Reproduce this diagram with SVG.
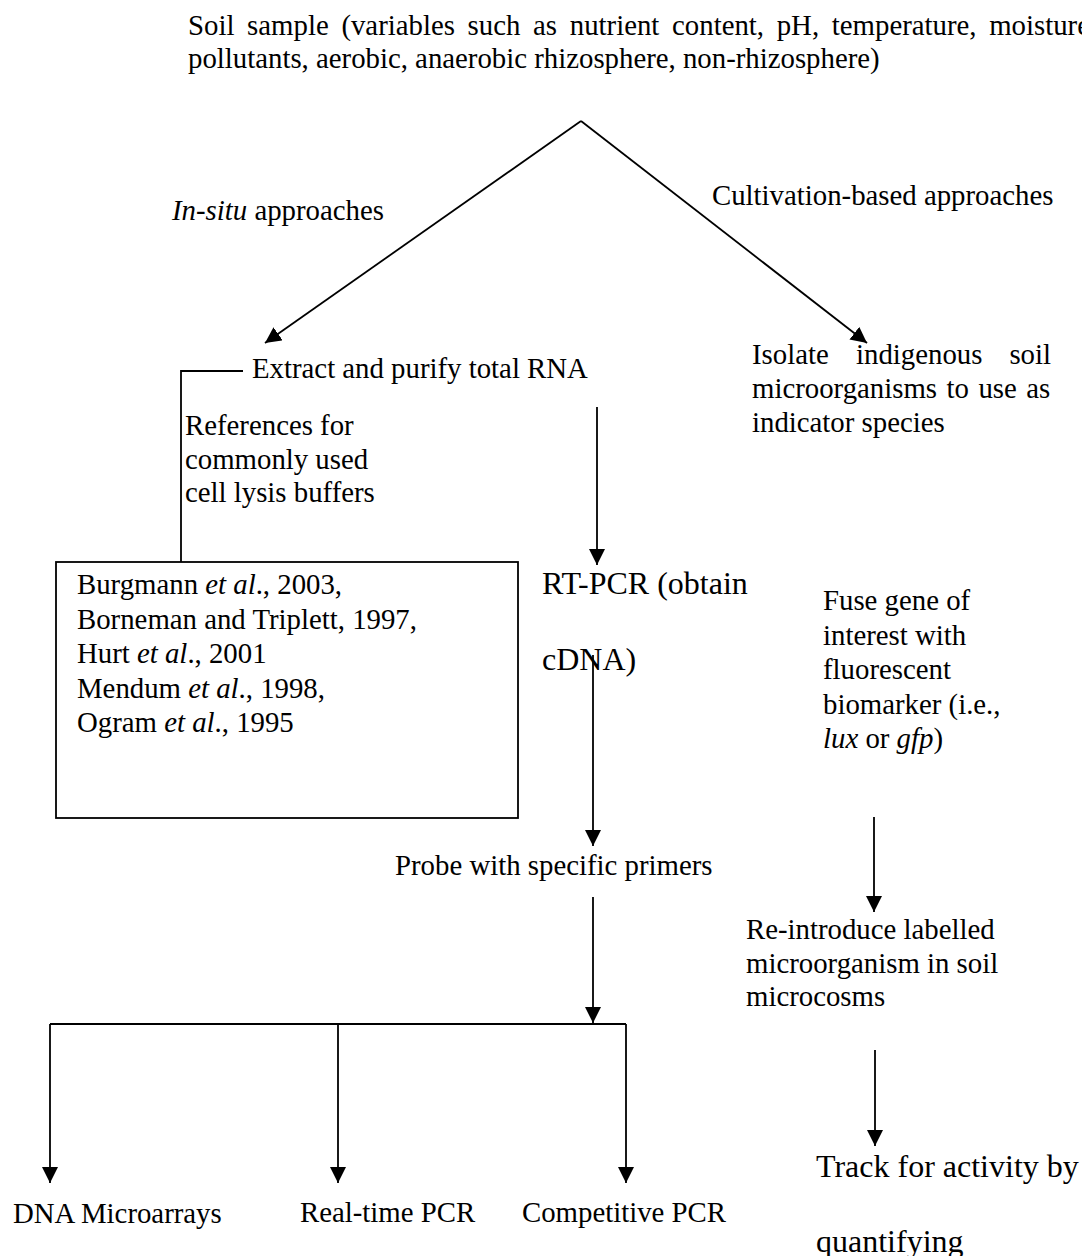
<svg xmlns="http://www.w3.org/2000/svg" width="1082" height="1256" viewBox="0 0 1082 1256">
<style>
  text { font-family: "Liberation Serif", "Times New Roman", serif; font-size: 28.8px; fill: #000; }
  .big { font-size: 32px; }
  .it { font-style: italic; }
  .ln { stroke: #000; stroke-width: 1.8; fill: none; }
  .arr { stroke: #000; stroke-width: 1.8; fill: none; marker-end: url(#ah); }
  .box { stroke: #000; stroke-width: 1.8; fill: none; }
</style>
<defs>
  <marker id="ah" markerUnits="userSpaceOnUse" viewBox="0 0 16 16" markerWidth="16" markerHeight="16" refX="16" refY="8" orient="auto">
    <path d="M0,0 L16,8 L0,16 z" fill="#000"/>
  </marker>
</defs>
<rect width="1082" height="1256" fill="#fff"/>

<g id="connectors">
  <line class="arr" x1="581" y1="121" x2="265" y2="343"/>
  <line class="arr" x1="581" y1="121" x2="867" y2="343"/>
  <polyline class="ln" points="243,371 181,371 181,562"/>
  <line class="arr" x1="597" y1="407" x2="597" y2="565"/>
  <line class="arr" x1="593" y1="655" x2="593" y2="846"/>
  <line class="arr" x1="593" y1="897" x2="593" y2="1023"/>
  <line class="ln" x1="50" y1="1024" x2="626" y2="1024"/>
  <line class="arr" x1="50" y1="1024" x2="50" y2="1183"/>
  <line class="arr" x1="338" y1="1024" x2="338" y2="1183"/>
  <line class="arr" x1="626" y1="1024" x2="626" y2="1183"/>
  <line class="arr" x1="874" y1="817" x2="874" y2="912"/>
  <line class="arr" x1="875" y1="1050" x2="875" y2="1146"/>
</g>

<g id="soil-sample">
  <text x="188" y="35" word-spacing="5.5">Soil sample (variables such as nutrient content, pH, temperature, moisture,</text>
  <text x="188" y="68">pollutants, aerobic, anaerobic rhizosphere, non-rhizosphere)</text>
</g>

<g id="in-situ-label">
  <text x="172" y="220"><tspan class="it">In-situ</tspan> approaches</text>
</g>

<g id="cultivation-label">
  <text x="712" y="205">Cultivation-based approaches</text>
</g>

<g id="extract-rna">
  <text x="252" y="378">Extract and purify total RNA</text>
</g>

<g id="references-label">
  <text x="185" y="435">References for</text>
  <text x="185" y="468.5">commonly used</text>
  <text x="185" y="502">cell lysis buffers</text>
</g>

<g id="references-box">
  <rect class="box" x="56" y="562" width="462" height="256"/>
  <text x="77" y="594">Burgmann <tspan class="it">et al</tspan>., 2003,</text>
  <text x="77" y="628.5">Borneman and Triplett, 1997,</text>
  <text x="77" y="663">Hurt <tspan class="it">et al</tspan>., 2001</text>
  <text x="77" y="697.5">Mendum <tspan class="it">et al</tspan>., 1998,</text>
  <text x="77" y="732">Ogram <tspan class="it">et al</tspan>., 1995</text>
</g>

<g id="rt-pcr">
  <text class="big" x="542" y="594">RT-PCR (obtain</text>
  <text class="big" x="542" y="670">cDNA)</text>
</g>

<g id="probe">
  <text x="395" y="875">Probe with specific primers</text>
</g>

<g id="dna-microarrays">
  <text x="13" y="1223">DNA Microarrays</text>
</g>
<g id="real-time-pcr">
  <text x="300" y="1222">Real-time PCR</text>
</g>
<g id="competitive-pcr">
  <text x="522" y="1222">Competitive PCR</text>
</g>

<g id="isolate">
  <text y="364"><tspan x="752">Isolate</tspan><tspan x="856">indigenous</tspan></text>
  <text x="1051" y="364" text-anchor="end">soil</text>
  <text x="752" y="398" word-spacing="2.3">microorganisms to use as</text>
  <text x="752" y="432">indicator species</text>
</g>

<g id="fuse-gene">
  <text x="823" y="610">Fuse gene of</text>
  <text x="823" y="644.5">interest with</text>
  <text x="823" y="679">fluorescent</text>
  <text x="823" y="713.5">biomarker (i.e.,</text>
  <text x="823" y="748"><tspan class="it">lux</tspan> or <tspan class="it">gfp</tspan>)</text>
</g>

<g id="reintroduce">
  <text x="746" y="939">Re-introduce labelled</text>
  <text x="746" y="972.5">microorganism in soil</text>
  <text x="746" y="1006">microcosms</text>
</g>

<g id="track">
  <text class="big" x="816" y="1177">Track for activity by</text>
  <text class="big" x="816" y="1252">quantifying</text>
</g>
</svg>
